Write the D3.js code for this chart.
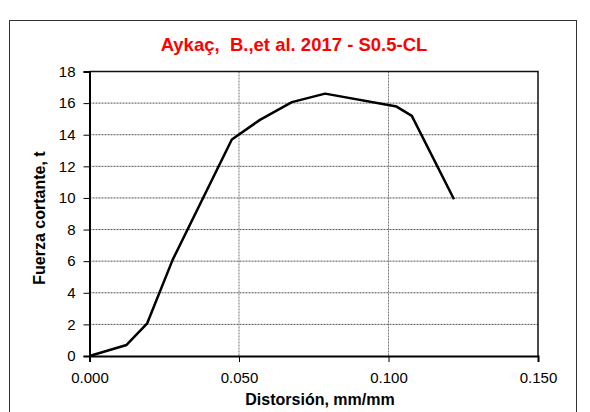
<!DOCTYPE html>
<html>
<head>
<meta charset="utf-8">
<script src="https://cdn.jsdelivr.net/npm/d3@7"></script>
<style>
  body { margin: 0; background: #fff; }
  svg { display: block; font-family: Arial, "Liberation Sans", sans-serif; }
</style>
</head>
<body>
<div id="chart"></div>
<script>
const title = 'Aykaç,  B.,et al. 2017 - S0.5-CL';
const xLabel = 'Distorsión, mm/mm';
const yLabel = 'Fuerza cortante, t';
const distorsion = [0, 0.0124, 0.0193, 0.0278, 0.0476, 0.057, 0.0677, 0.0788, 0.1027, 0.1078, 0.1219];
const fuerza     = [0, 0.70, 2.07, 6.08, 13.7, 14.94, 16.06, 16.6, 15.78, 15.19, 9.92];
const xTicks = [0, 0.05, 0.1, 0.15];
const yTicks = [0, 2, 4, 6, 8, 10, 12, 14, 16, 18];

const W = 590, H = 412;
const svg = d3.select('#chart').append('svg').attr('width', W).attr('height', H);

// outer chart border
svg.append('rect').attr('x', 9.5).attr('y', 20.5).attr('width', 567).attr('height', 420)
  .attr('fill', 'none').attr('stroke', '#333').attr('stroke-width', 1);

const L = 89.5, R = 538, T = 71.5, B = 356;
const x = d3.scaleLinear().domain([0, 0.15]).range([L, R]);
const y = d3.scaleLinear().domain([0, 18]).range([B, T]);

// grid
svg.append('g').selectAll('line').data(yTicks.slice(1, -1)).join('line')
  .attr('x1', L).attr('x2', R).attr('y1', d => y(d)).attr('y2', d => y(d))
  .attr('stroke', '#555').attr('stroke-width', 1).attr('stroke-dasharray', '2,1');
svg.append('g').selectAll('line').data(xTicks.slice(1, -1)).join('line')
  .attr('x1', d => x(d)).attr('x2', d => x(d)).attr('y1', T).attr('y2', B)
  .attr('stroke', '#777').attr('stroke-width', 1).attr('stroke-dasharray', '2,1');

// frame top/right
svg.append('path').attr('d', `M${L},${T}H${R}V${B}`)
  .attr('fill', 'none').attr('stroke', '#111').attr('stroke-width', 1.5);

// axes
const yAxis = svg.append('g').attr('transform', `translate(${L},0)`)
  .call(d3.axisLeft(y).tickValues(yTicks).tickSize(6).tickPadding(8).tickFormat(d3.format('d')));
const xAxis = svg.append('g').attr('transform', `translate(0,${B})`)
  .call(d3.axisBottom(x).tickValues(xTicks).tickSize(6).tickPadding(10).tickFormat(d3.format('.3f')));
[yAxis, xAxis].forEach(g => {
  g.select('.domain').attr('stroke', '#000').attr('stroke-width', 2);
  g.selectAll('.tick line').attr('stroke', '#000').attr('stroke-width', 1);
  g.selectAll('.tick text').attr('font-size', 15).attr('fill', '#000')
    .attr('font-family', 'Arial, "Liberation Sans", sans-serif');
});

// data line
const pts = distorsion.map((d, i) => [d, fuerza[i]]);
svg.append('path').datum(pts)
  .attr('d', d3.line().x(d => x(d[0])).y(d => y(d[1])))
  .attr('fill', 'none').attr('stroke', '#000').attr('stroke-width', 2.5)
  .attr('stroke-linejoin', 'round');

// texts
svg.append('text').attr('x', 294).attr('y', 51).attr('text-anchor', 'middle')
  .attr('font-size', 18.5).attr('font-weight', 'bold').attr('fill', '#ff0000')
  .style('white-space', 'pre').text(title);
svg.append('text').attr('x', 320).attr('y', 405).attr('text-anchor', 'middle')
  .attr('font-size', 16).attr('font-weight', 'bold').attr('fill', '#000').text(xLabel);
svg.append('text').attr('transform', 'translate(45,218) rotate(-90)').attr('text-anchor', 'middle')
  .attr('font-size', 16).attr('font-weight', 'bold').attr('fill', '#000').text(yLabel);
</script>
</body>
</html>
